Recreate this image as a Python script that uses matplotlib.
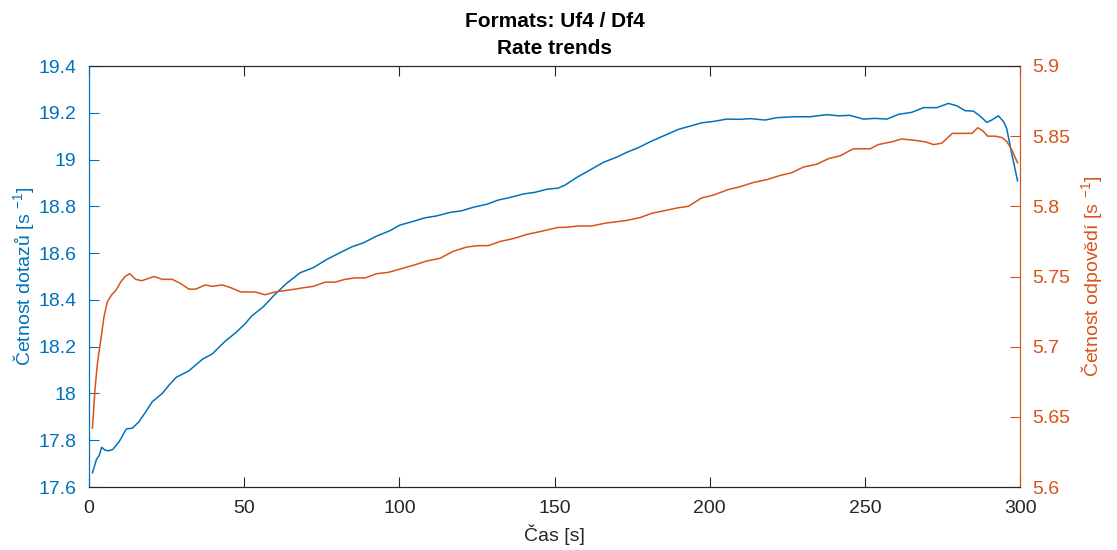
import matplotlib
matplotlib.use('Agg')
import matplotlib.pyplot as plt
import matplotlib.ticker as ticker

plt.rcParams['font.family'] = ['Liberation Sans', 'DejaVu Sans']
plt.rcParams['mathtext.default'] = 'regular'

BLUE = '#0072BD'
ORANGE = '#D95319'
DARK = '#262626'

# query rate (left axis)
t_dotazy = [1.1, 2.4, 3.2, 4.1, 5.1, 6.4, 7.7, 9.7, 12.0, 14.0, 16.1, 18.3, 20.4, 23.6,
            25.8, 28.1, 32.2, 36.5, 39.7, 44.0, 47.3, 50.3, 52.4, 56.2, 60.0, 63.7, 68.0,
            72.3, 76.6, 80.9, 84.7, 88.4, 92.7, 97.0, 100.2, 104.0, 108.3, 112.0, 116.3,
            120.1, 123.8, 128.2, 131.9, 135.7, 140.0, 143.7, 147.5, 151.2, 153.4, 157.2,
            161.4, 165.7, 170.0, 173.3, 177.0, 181.3, 185.6, 189.9, 194.2, 197.4, 201.2,
            205.5, 209.8, 213.0, 217.9, 221.6, 227.0, 232.4, 237.7, 241.5, 245.2, 249.5,
            253.3, 257.1, 260.8, 265.1, 268.9, 273.2, 276.9, 279.6, 282.3, 285.0, 287.1,
            289.3, 290.9, 293.0, 294.7, 295.7, 297.3, 299.2]
dotazy = [17.661, 17.718, 17.733, 17.770, 17.758, 17.755, 17.761, 17.794, 17.848, 17.852,
          17.879, 17.922, 17.965, 18.000, 18.036, 18.069, 18.097, 18.146, 18.169, 18.225,
          18.260, 18.298, 18.331, 18.371, 18.425, 18.471, 18.516, 18.538, 18.573, 18.602,
          18.627, 18.644, 18.673, 18.696, 18.720, 18.734, 18.751, 18.759, 18.774, 18.781,
          18.796, 18.809, 18.827, 18.838, 18.853, 18.860, 18.873, 18.878, 18.891, 18.924,
          18.955, 18.988, 19.010, 19.031, 19.051, 19.079, 19.104, 19.129, 19.145, 19.157,
          19.163, 19.173, 19.172, 19.175, 19.169, 19.179, 19.183, 19.183, 19.192, 19.187,
          19.189, 19.173, 19.176, 19.173, 19.193, 19.202, 19.222, 19.222, 19.240, 19.230,
          19.209, 19.207, 19.186, 19.159, 19.169, 19.187, 19.162, 19.133, 19.027, 18.909]

# response rate (right axis)
t_odpovedi = [1.1, 1.9, 2.7, 3.8, 4.8, 5.9, 7.3, 8.6, 10.2, 11.6, 13.1, 15.0, 17.0, 18.3,
              20.9, 23.6, 26.8, 29.5, 32.2, 34.4, 37.4, 39.7, 43.0, 45.7, 48.9, 51.6,
              53.5, 56.7, 60.0, 63.2, 66.4, 69.1, 72.3, 76.1, 79.3, 82.5, 85.7, 89.0,
              92.7, 96.5, 101.3, 104.5, 108.8, 113.1, 117.4, 121.7, 125.5, 128.7, 132.5,
              136.7, 141.1, 145.3, 151.2, 153.4, 157.7, 162.0, 166.3, 170.0, 173.3, 177.6,
              181.3, 185.6, 189.9, 193.1, 197.4, 201.2, 206.0, 209.8, 214.1, 218.4, 222.7,
              226.5, 230.2, 234.5, 238.3, 242.0, 246.3, 251.7, 254.3, 258.7, 261.9, 266.2,
              269.4, 272.1, 274.8, 278.2, 281.8, 284.5, 286.4, 287.9, 289.6, 292.0, 294.2,
              295.8, 297.4, 299.2]
odpovedi = [5.642, 5.669, 5.688, 5.705, 5.721, 5.732, 5.737, 5.740, 5.746, 5.750, 5.752,
            5.748, 5.747, 5.748, 5.750, 5.748, 5.748, 5.745, 5.741, 5.741, 5.744, 5.743,
            5.744, 5.742, 5.739, 5.739, 5.739, 5.737, 5.739, 5.740, 5.741, 5.742, 5.743,
            5.746, 5.746, 5.748, 5.749, 5.749, 5.752, 5.753, 5.756, 5.758, 5.761, 5.763,
            5.768, 5.771, 5.772, 5.772, 5.775, 5.777, 5.780, 5.782, 5.785, 5.785, 5.786,
            5.786, 5.788, 5.789, 5.790, 5.792, 5.795, 5.797, 5.799, 5.800, 5.806, 5.808,
            5.812, 5.814, 5.817, 5.819, 5.822, 5.824, 5.828, 5.830, 5.834, 5.836, 5.841,
            5.841, 5.844, 5.846, 5.848, 5.847, 5.846, 5.844, 5.845, 5.852, 5.852, 5.852,
            5.856, 5.854, 5.850, 5.850, 5.849, 5.846, 5.840, 5.831]

x_ticks = [0, 50, 100, 150, 200, 250, 300]
left_ticks = [17.6, 17.8, 18.0, 18.2, 18.4, 18.6, 18.8, 19.0, 19.2, 19.4]
right_ticks = [5.6, 5.65, 5.7, 5.75, 5.8, 5.85, 5.9]


def g_formatter(x, pos):
    return '{:g}'.format(round(x, 3))


fig = plt.figure(figsize=(11.17, 5.5), dpi=100)
ax = fig.add_axes([0.0797, 0.1145, 0.8335, 0.7655])
ax2 = ax.twinx()

ax.plot(t_dotazy, dotazy, color=BLUE, linewidth=1.1)
ax2.plot(t_odpovedi, odpovedi, color=ORANGE, linewidth=1.1)

ax.set_xlim(0, 300)
ax.set_ylim(17.6, 19.4)
ax2.set_ylim(5.6, 5.9)
ax.set_xticks(x_ticks)
ax.set_yticks(left_ticks)
ax2.set_yticks(right_ticks)
ax.yaxis.set_major_formatter(ticker.FuncFormatter(g_formatter))
ax2.yaxis.set_major_formatter(ticker.FuncFormatter(g_formatter))

# matlab-like box: ticks inside, x ticks on top as well
ax.tick_params(axis='x', direction='in', length=7, width=0.8, top=True, colors=DARK,
               labelsize=14, pad=9)
ax.tick_params(axis='y', direction='in', length=7, width=0.8, colors=BLUE,
               labelsize=14, pad=9)
ax2.tick_params(axis='y', direction='in', length=7, width=0.8, colors=ORANGE,
                labelsize=14, pad=9)
for a in (ax, ax2):
    a.spines['top'].set_color(DARK)
    a.spines['bottom'].set_color(DARK)
    a.spines['left'].set_color(BLUE)
    a.spines['right'].set_color(ORANGE)
    for s in a.spines.values():
        s.set_linewidth(0.8)

ax.set_xlabel('Čas [s]', fontsize=14, color=DARK, labelpad=6)
ax.set_ylabel('Četnost dotazů [s $^{-1}$]', fontsize=14, color=BLUE, labelpad=2)
ax2.set_ylabel('Četnost odpovědí [s $^{-1}$]', fontsize=14, color=ORANGE, labelpad=6)
ax.set_title('Formats: Uf4 / Df4\nRate trends', fontsize=15, fontweight='bold',
             color='black', pad=9, linespacing=1.5)

fig.savefig('out.png', dpi=100, facecolor='white')
